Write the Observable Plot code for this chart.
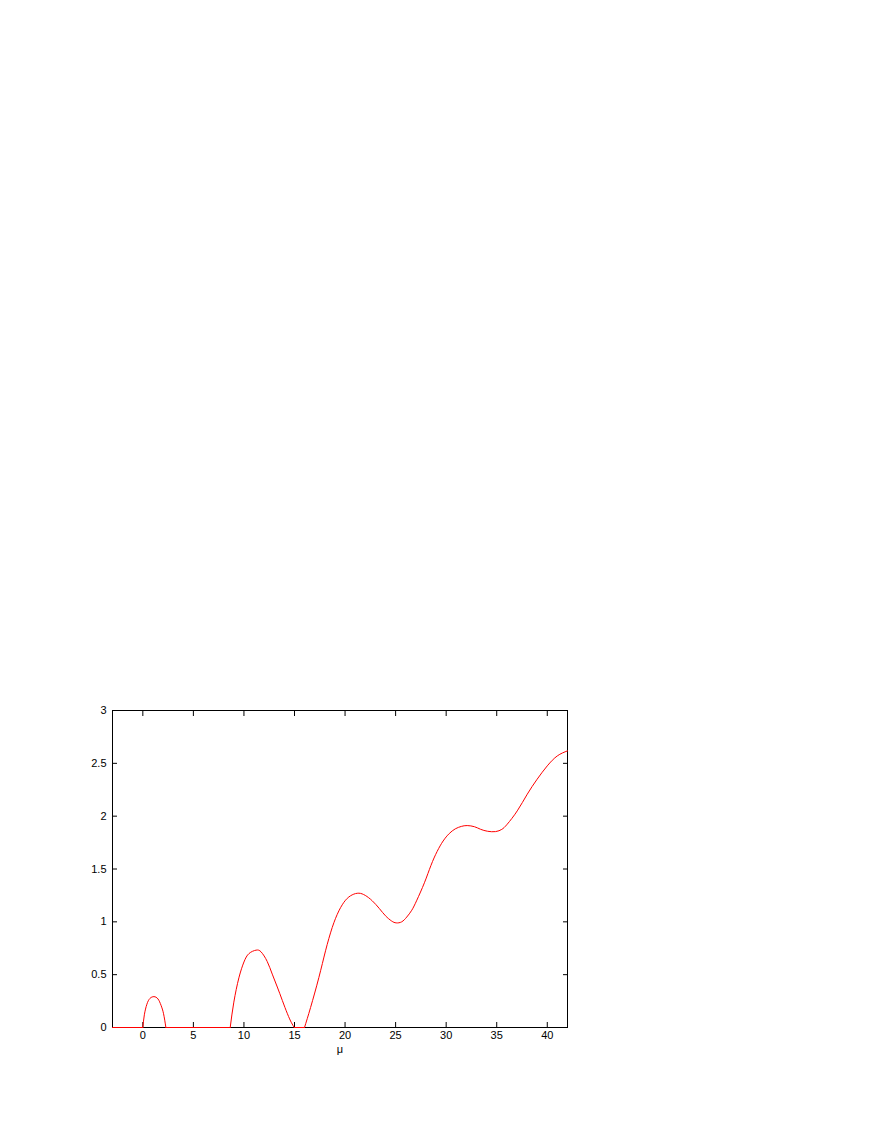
<!DOCTYPE html>
<html><head><meta charset="utf-8">
<script src="https://cdn.jsdelivr.net/npm/d3@7"></script>
<script src="https://cdn.jsdelivr.net/npm/@observablehq/plot@0.6"></script>
<style>body{margin:0;background:#fff}</style>
</head><body><div id="chart"></div>
<script>
// Curve; "segment" separates the zero stretches from the lobes
const mu = [
  -3, 0,
  0, 0.15, 0.4, 0.7, 1.1, 1.5, 1.8, 2.05, 2.28,
  2.28, 8.64,
  8.64, 9.0, 9.5, 10.0, 10.5, 11.2, 11.7, 12.3, 12.8, 13.3, 13.8, 14.3, 14.7, 14.98,
  14.98, 15.99,
  15.99, 16.59, 17.41, 18.07, 18.73, 19.39, 20.05, 20.7, 21.37, 22.0, 22.69, 23.4, 24.0, 24.6, 25.06,
  25.6, 26.1, 26.6, 27.1, 27.85, 28.5, 29.1, 29.7, 30.3, 30.9, 31.5, 32.08, 32.8, 33.4, 34.1, 34.89, 35.5, 36.04, 37.03,
  38.02, 39.0, 40.0, 40.99, 42
];
const value = [
  0, 0,
  0, 0.12, 0.22, 0.275, 0.292, 0.27, 0.21, 0.13, 0,
  0, 0,
  0, 0.24, 0.47, 0.62, 0.70, 0.732, 0.715, 0.625, 0.505, 0.383, 0.255, 0.13, 0.045, 0,
  0, 0,
  0, 0.189, 0.473, 0.726, 0.946, 1.104, 1.205, 1.255, 1.271, 1.25, 1.199, 1.125, 1.057, 1.008, 0.99,
  1.0, 1.045, 1.11, 1.205, 1.37, 1.535, 1.665, 1.765, 1.835, 1.88, 1.903, 1.911, 1.9, 1.876, 1.857, 1.854, 1.875, 1.924, 2.05,
  2.208, 2.35, 2.476, 2.57, 2.618
];
const segment = [
  0, 0,
  1, 1, 1, 1, 1, 1, 1, 1, 1,
  2, 2,
  3, 3, 3, 3, 3, 3, 3, 3, 3, 3, 3, 3, 3, 3,
  4, 4,
  5, 5, 5, 5, 5, 5, 5, 5, 5, 5, 5, 5, 5, 5, 5,
  5, 5, 5, 5, 5, 5, 5, 5, 5, 5, 5, 5, 5, 5, 5, 5, 5, 5, 5,
  5, 5, 5, 5, 5
];
const xTicks = [0, 5, 10, 15, 20, 25, 30, 35, 40];
const yTicks = [0, 0.5, 1, 1.5, 2, 2.5, 3];
const xLabel = "μ";

const data = mu.map((m, i) => ({mu: m, v: value[i], seg: segment[i]}));

const chart = Plot.plot({
  width: 872, height: 1128,
  marginLeft: 112, marginRight: 305, marginTop: 710, marginBottom: 101,
  style: {fontFamily: "'Liberation Sans', Arial, sans-serif", fontSize: "11px", background: "white", color: "black"},
  x: {domain: [-3, 42]},
  y: {domain: [0, 3]},
  marks: [
    Plot.frame({stroke: "black"}),
    Plot.axisX({ticks: xTicks, anchor: "bottom", tickSize: 0, tickPadding: 4, tickFormat: d => String(d), label: null}),
    Plot.axisX({ticks: xTicks, anchor: "bottom", tickSize: -5, tickFormat: () => "", label: null}),
    Plot.axisX({ticks: xTicks, anchor: "top", tickSize: -5, tickFormat: () => "", label: null}),
    Plot.axisY({ticks: yTicks, anchor: "left", tickSize: 0, tickPadding: 6, tickFormat: d => String(d), label: null}),
    Plot.axisY({ticks: yTicks, anchor: "left", tickSize: -5, tickFormat: () => "", label: null}),
    Plot.axisY({ticks: yTicks, anchor: "right", tickSize: -5, tickFormat: () => "", label: null}),
    Plot.text([xLabel], {text: d => d, frameAnchor: "bottom", dy: 25, fontSize: 11}),
    Plot.line(data, {x: "mu", y: "v", z: "seg", stroke: "#ff0000", strokeWidth: 1, curve: "natural"})
  ]
});
document.getElementById("chart").appendChild(chart);
</script>
</body></html>
